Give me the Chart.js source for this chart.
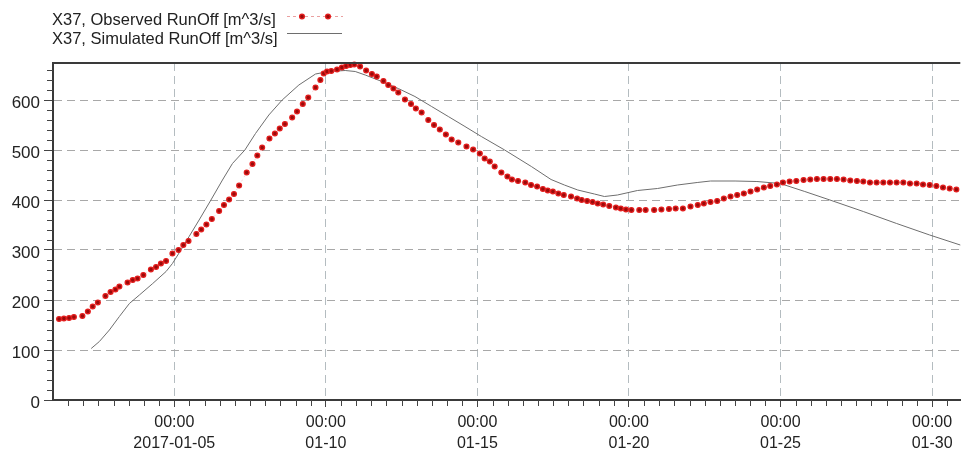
<!DOCTYPE html>
<html>
<head>
<meta charset="utf-8">
<script src="https://cdn.jsdelivr.net/npm/chart.js@4.4.1/dist/chart.umd.min.js"></script>
<style>
  html, body { margin: 0; padding: 0; background: #ffffff; overflow: hidden; }
  #wrap { position: relative; width: 964px; height: 454px; }
  #chart { position: absolute; left: 0; top: 0; }
  .legend-text {
    position: absolute; left: 52px; height: 20px; line-height: 20px;
    font-family: "Liberation Sans", Arial, sans-serif; font-size: 16.5px; color: #222;
    white-space: nowrap;
  }
</style>
</head>
<body>
<div id="wrap">
  <canvas id="chart" width="964" height="454"></canvas>
  <div class="legend-text" id="leg-obs" style="top:9px;"></div>
  <div class="legend-text" id="leg-sim" style="top:28px;"></div>
</div>
<script>
// Series names
const seriesNames = ['X37, Observed RunOff [m^3/s]', 'X37, Simulated RunOff [m^3/s]'];

// Observed run-off: time in days after 2017-01-01 00:00, flow in m^3/s
const obsDay = [0.20,0.36,0.53,0.69,0.97,1.15,1.31,1.48,1.73,1.90,2.06,2.19,2.46,2.63,2.79,2.98,3.23,3.40,3.56,3.73,
  3.94,4.14,4.30,4.47,4.73,4.89,5.06,5.24,5.48,5.64,5.81,5.97,6.14,6.39,6.58,6.74,6.90,7.14,7.32,7.48,
  7.65,7.89,8.05,8.24,8.42,8.66,8.82,8.93,9.04,9.18,9.37,9.53,9.67,9.81,9.94,10.13,10.33,10.52,10.68,10.90,
  11.06,11.23,11.39,11.61,11.81,11.97,12.16,12.38,12.57,12.76,12.96,13.15,13.37,13.64,13.86,14.08,14.24,14.41,14.57,14.79,
  14.99,15.14,15.34,15.58,15.77,15.97,16.16,16.32,16.49,16.67,16.85,17.09,17.29,17.44,17.62,17.80,17.97,18.15,18.35,18.57,
  18.73,18.90,19.08,19.34,19.55,19.83,20.07,20.32,20.54,20.78,21.03,21.27,21.47,21.69,21.91,22.13,22.35,22.57,22.79,23.01,
  23.23,23.45,23.66,23.88,24.08,24.30,24.52,24.76,24.98,25.20,25.42,25.64,25.86,26.08,26.30,26.52,26.73,26.95,27.17,27.39,
  27.61,27.83,28.05,28.27,28.49,28.70,28.92,29.14,29.36,29.58,29.80];
const obsFlow = [162,163,164,166,168,177,187,195,208,216,221,227,235,240,243,250,261,266,273,278,
  293,300,310,318,332,341,351,362,378,390,401,412,429,455,472,489,505,523,533,543,
  552,565,577,592,605,625,640,653,657,658,661,665,668,670,671,667,659,652,647,638,
  630,623,615,601,592,583,575,560,550,541,531,521,515,507,501,493,483,477,467,455,
  447,441,438,435,430,427,422,419,417,413,410,407,403,400,398,396,393,391,388,385,
  383,381,380,380,380,380,381,382,383,383,387,390,393,396,398,403,407,410,413,417,
  421,425,428,431,435,437,438,440,441,442,442,442,442,441,439,438,437,435,435,435,
  435,435,435,433,433,431,430,428,425,423,421];

// Simulated run-off
const simDay = [1.26,1.53,1.86,2.19,2.52,2.85,3.29,3.73,3.94,4.20,4.49,4.82,5.21,5.59,5.92,6.33,6.68,7.12,7.56,8.11,
  8.66,9.09,9.64,9.97,10.30,10.85,11.39,11.94,12.49,13.04,13.59,14.13,14.90,15.78,16.43,16.87,17.31,17.86,18.19,18.62,
  19.28,19.94,20.60,21.25,21.69,22.50,23.22,23.99,24.80,25.63,26.73,27.83,28.92,29.93];
const simFlow = [103,117,140,167,193,210,233,257,273,298,327,360,400,440,473,500,533,570,600,630,
  652,657,659,657,650,637,623,607,587,567,547,527,500,467,441,430,420,412,407,410,
  419,423,430,435,438,438,437,433,417,400,377,353,330,310];

// Axis labels
const xLabelDays = [4, 9, 14, 19, 24, 29];
const xLabelTimes = ['00:00', '00:00', '00:00', '00:00', '00:00', '00:00'];
const xLabelDates = ['2017-01-05', '01-10', '01-15', '01-20', '01-25', '01-30'];
const yLabelValues = [0, 100, 200, 300, 400, 500, 600];

const FONT = '"Liberation Sans", Arial, sans-serif';
const AXIS_COLOR = '#3a3a3a';

document.getElementById('leg-obs').textContent = seriesNames[0];
document.getElementById('leg-sim').textContent = seriesNames[1];

// Top frame line, short minor ticks and the legend samples
const framePlugin = {
  id: 'frame',
  afterDraw(chart) {
    const { ctx, chartArea, scales } = chart;
    ctx.save();
    ctx.strokeStyle = AXIS_COLOR;
    ctx.lineWidth = 2;
    ctx.beginPath();
    ctx.moveTo(chartArea.left - 1, chartArea.top);
    ctx.lineTo(chartArea.right, chartArea.top);
    ctx.stroke();

    // minor ticks (unlabelled positions) are shorter than the labelled ones
    ctx.strokeStyle = '#444';
    ctx.lineWidth = 1;
    ctx.beginPath();
    scales.y.ticks.forEach(t => {
      if (yLabelValues.includes(t.value)) return;
      const y = Math.round(scales.y.getPixelForValue(t.value)) + 0.5;
      ctx.moveTo(chartArea.left - 6, y);
      ctx.lineTo(chartArea.left, y);
    });
    scales.x.ticks.forEach(t => {
      if (xLabelDays.includes(t.value) || t.value === 0) return;
      const x = Math.round(scales.x.getPixelForValue(t.value)) + 0.5;
      ctx.moveTo(x, chartArea.bottom);
      ctx.lineTo(x, chartArea.bottom + 6);
    });
    ctx.stroke();

    // observed sample: faint dashed line with two markers
    ctx.strokeStyle = 'rgba(225,120,120,0.7)';
    ctx.lineWidth = 1;
    ctx.setLineDash([3, 3]);
    ctx.beginPath();
    ctx.moveTo(287, 16.5);
    ctx.lineTo(343, 16.5);
    ctx.stroke();
    ctx.setLineDash([]);
    [302, 328].forEach(x => {
      ctx.beginPath();
      ctx.arc(x, 16.5, 2.4, 0, Math.PI * 2);
      ctx.fillStyle = '#9a0a0a';
      ctx.fill();
      ctx.lineWidth = 1.3;
      ctx.strokeStyle = '#e41e1e';
      ctx.stroke();
    });

    // simulated sample
    ctx.strokeStyle = '#6e6e6e';
    ctx.lineWidth = 1;
    ctx.beginPath();
    ctx.moveTo(287, 33.5);
    ctx.lineTo(342, 33.5);
    ctx.stroke();
    ctx.restore();
  }
};

new Chart(document.getElementById('chart'), {
  type: 'scatter',
  data: {
    datasets: [
      {
        label: seriesNames[1],
        data: simDay.map((d, i) => ({ x: d, y: simFlow[i] })),
        showLine: true,
        borderColor: '#6e6e6e',
        borderWidth: 1,
        pointRadius: 0,
        tension: 0,
        clip: false,
        order: 2
      },
      {
        label: seriesNames[0],
        data: obsDay.map((d, i) => ({ x: d, y: obsFlow[i] })),
        showLine: true,
        borderColor: 'rgba(230,140,140,0.35)',
        borderWidth: 1,
        borderDash: [2, 3],
        pointRadius: 2.4,
        pointBackgroundColor: '#9a0a0a',
        pointBorderColor: '#e41e1e',
        pointBorderWidth: 1.3,
        pointHoverRadius: 2.4,
        clip: false,
        order: 1
      }
    ]
  },
  options: {
    responsive: false,
    animation: false,
    events: [],
    layout: { padding: { top: 63, left: 0, right: 0, bottom: 0 } },
    plugins: { legend: { display: false }, tooltip: { enabled: false } },
    scales: {
      x: {
        type: 'linear',
        position: 'bottom',
        min: 0,
        max: 29.93,
        afterBuildTicks(scale) {
          const t = [];
          for (let h = 0; h <= 29 * 2 + 1; h++) t.push({ value: h / 2 });
          scale.ticks = t;
        },
        afterFit(scale) { scale.height = 54; },
        ticks: {
          autoSkip: false,
          maxRotation: 0,
          minRotation: 0,
          padding: 5,
          color: '#222',
          font: { family: FONT, size: 16, lineHeight: 1.32 },
          callback(value) {
            const i = xLabelDays.indexOf(value);
            return i >= 0 ? [xLabelTimes[i], xLabelDates[i]] : '';
          }
        },
        grid: {
          drawOnChartArea: true,
          lineWidth: 1,
          tickLength: 7,
          tickWidth: 1,
          tickColor(ctx) {
            return ctx.tick && xLabelDays.includes(ctx.tick.value) ? '#444' : 'rgba(0,0,0,0)';
          },
          color(ctx) {
            return ctx.tick && xLabelDays.includes(ctx.tick.value) ? '#b4bcc0' : 'rgba(0,0,0,0)';
          }
        },
        border: { display: true, color: AXIS_COLOR, width: 2, dash: [8, 5] }
      },
      y: {
        type: 'linear',
        position: 'left',
        min: 0,
        max: 674,
        afterBuildTicks(scale) {
          const t = [];
          for (let v = 0; v <= 660; v += 20) t.push({ value: v });
          scale.ticks = t;
        },
        afterFit(scale) { scale.width = 53; },
        ticks: {
          autoSkip: false,
          padding: 4,
          labelOffset: 3,
          color: '#222',
          font: { family: FONT, size: 17 },
          callback(value) {
            return yLabelValues.includes(value) ? String(value) : '';
          }
        },
        grid: {
          drawOnChartArea: true,
          lineWidth: 1,
          tickLength: 9,
          tickWidth: 1,
          tickColor(ctx) {
            return ctx.tick && yLabelValues.includes(ctx.tick.value) ? '#444' : 'rgba(0,0,0,0)';
          },
          color(ctx) {
            const v = ctx.tick ? ctx.tick.value : -1;
            return v > 0 && yLabelValues.includes(v) ? '#a8a8a8' : 'rgba(0,0,0,0)';
          }
        },
        border: { display: true, color: AXIS_COLOR, width: 2, dash: [8, 5] }
      }
    }
  },
  plugins: [framePlugin]
});
</script>
</body>
</html>
